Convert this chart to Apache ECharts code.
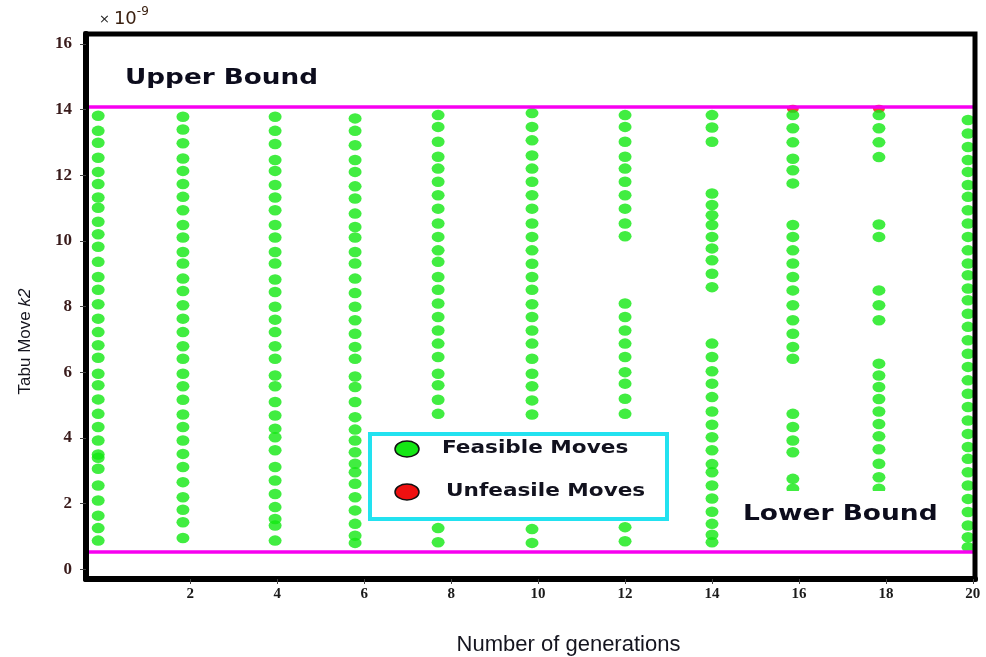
<!DOCTYPE html>
<html>
<head>
<meta charset="utf-8">
<script src="https://cdn.jsdelivr.net/npm/echarts@6/dist/echarts.min.js"></script>
<style>
  html, body { margin: 0; padding: 0; background: #ffffff; }
  #chart { width: 986px; height: 657px; }
</style>
</head>
<body>
<div id="chart"></div>
<script>
// Generation at which each column of moves was sampled
const generationX = [-0.12, 1.83, 3.95, 5.79, 7.70, 9.86, 12.0, 14.0, 15.86, 17.84, 19.89];

// Feasible tabu moves k2 (×10^-9) per generation column
const movesGen0 = [13.81, 13.35, 12.99, 12.53, 12.10, 11.73, 11.32, 11.01, 10.58, 10.20, 9.82, 9.36, 8.90, 8.51, 8.07, 7.63, 7.22, 6.82, 6.44, 5.95, 5.60, 5.17, 4.73, 4.33, 3.92, 3.49, 3.39, 3.06, 2.55, 2.09, 1.63, 1.25, 0.87];
const movesGen2 = [13.78, 13.39, 12.97, 12.51, 12.13, 11.73, 11.34, 10.93, 10.48, 10.10, 9.66, 9.31, 8.85, 8.47, 8.04, 7.63, 7.22, 6.79, 6.41, 5.95, 5.57, 5.16, 4.71, 4.33, 3.92, 3.51, 3.11, 2.65, 2.19, 1.81, 1.43, 0.95];
const movesGen4 = [13.78, 13.35, 12.95, 12.46, 12.13, 11.70, 11.32, 10.93, 10.48, 10.10, 9.66, 9.31, 8.82, 8.44, 7.99, 7.60, 7.22, 6.79, 6.41, 5.90, 5.57, 5.09, 4.68, 4.28, 4.02, 3.62, 3.11, 2.70, 2.29, 1.89, 1.53, 1.33, 0.87];
const movesGen6 = [13.73, 13.35, 12.91, 12.46, 12.10, 11.66, 11.29, 10.83, 10.42, 10.10, 9.66, 9.31, 8.85, 8.41, 7.99, 7.58, 7.17, 6.77, 6.41, 5.87, 5.55, 5.09, 4.63, 4.25, 3.92, 3.56, 3.21, 2.95, 2.60, 2.19, 1.79, 1.38, 1.02, 0.80];
const movesGen8 = [13.83, 13.47, 13.02, 12.56, 12.20, 11.80, 11.39, 10.98, 10.53, 10.12, 9.71, 9.36, 8.90, 8.51, 8.09, 7.68, 7.27, 6.87, 6.46, 5.95, 5.60, 5.16, 4.73, 1.25, 0.82];
const movesGen10 = [13.89, 13.47, 13.06, 12.60, 12.20, 11.80, 11.39, 10.98, 10.53, 10.12, 9.71, 9.30, 8.90, 8.51, 8.07, 7.68, 7.27, 6.87, 6.41, 5.95, 5.57, 5.14, 4.71, 1.22, 0.80];
const movesGen12 = [13.83, 13.47, 13.02, 12.56, 12.20, 11.80, 11.39, 10.98, 10.53, 10.14, 8.09, 7.68, 7.27, 6.87, 6.46, 6.00, 5.65, 5.19, 4.73, 1.28, 0.85];
const movesGen14 = [13.83, 13.45, 13.02, 11.44, 11.09, 10.78, 10.48, 10.12, 9.77, 9.41, 9.00, 8.59, 6.87, 6.46, 6.03, 5.65, 5.24, 4.80, 4.40, 4.02, 3.62, 3.20, 2.95, 2.55, 2.15, 1.75, 1.38, 1.05, 0.82];
const movesGen16 = [13.83, 13.43, 13.00, 12.50, 12.15, 11.75, 10.48, 10.12, 9.71, 9.31, 8.90, 8.49, 8.04, 7.58, 7.17, 6.77, 6.41, 4.73, 4.33, 3.92, 3.56, 2.75, 2.45];
const movesGen18 = [13.83, 13.43, 13.00, 12.55, 10.50, 10.12, 8.49, 8.04, 7.58, 6.26, 5.90, 5.55, 5.18, 4.80, 4.42, 4.05, 3.65, 3.21, 2.80, 2.45];
const movesGen20 = [13.68, 13.27, 12.86, 12.46, 12.10, 11.70, 11.34, 10.93, 10.53, 10.12, 9.71, 9.31, 8.95, 8.55, 8.19, 7.78, 7.38, 6.97, 6.56, 6.16, 5.75, 5.34, 4.94, 4.53, 4.12, 3.72, 3.36, 2.95, 2.55, 2.14, 1.74, 1.33, 0.97, 0.67];

const feasibleColumns = [movesGen0, movesGen2, movesGen4, movesGen6, movesGen8, movesGen10,
                         movesGen12, movesGen14, movesGen16, movesGen18, movesGen20];

// Unfeasible moves, sitting just under the upper bound
const unfeasibleMoves = [[15.86, 14.02], [17.84, 14.02]];

// Bounds of the admissible k2 range
const upperBound = 14.07;
const lowerBound = 0.54;

// Tick positions
const xTickValues = [2, 4, 6, 8, 10, 12, 14, 16, 18, 20];
const yTickValues = [0, 2, 4, 6, 8, 10, 12, 14, 16];

const feasibleData = [];
feasibleColumns.forEach(function (col, i) {
  col.forEach(function (v) { feasibleData.push([generationX[i], v]); });
});

const chart = echarts.init(document.getElementById('chart'), null, { renderer: 'canvas' });

const boldWide = 'bold 21px "DejaVu Sans"';
const legendFont = 'bold 17px "DejaVu Sans"';

chart.setOption({
  animation: false,
  backgroundColor: '#ffffff',
  grid: {
    left: 86, top: 34, width: 889, height: 545,
    outerBoundsMode: 'none', containLabel: false,
    show: true, borderColor: '#000000', borderWidth: 5,
    backgroundColor: 'transparent', z: 10
  },
  xAxis: {
    type: 'value', min: -0.4, max: 20.05, z: 11,
    axisLine: { show: true, onZero: false, lineStyle: { color: '#000000', width: 6 } },
    axisTick: { show: true, length: 5, customValues: xTickValues, lineStyle: { color: '#444444', width: 1 } },
    axisLabel: {
      customValues: xTickValues, margin: 8,
      color: '#1a1a1a', fontFamily: '"Liberation Serif", serif', fontSize: 15, fontWeight: 'bold'
    },
    splitLine: { show: false },
    name: 'Number of generations', nameLocation: 'middle', nameGap: 55,
    nameTextStyle: {
      color: '#15151f', fontFamily: '"Liberation Sans", Arial, sans-serif', fontSize: 22,
      padding: [0, 0, 0, 76]
    }
  },
  yAxis: {
    type: 'value', min: -0.3, max: 16.3, z: 11,
    axisLine: { show: true, onZero: false, lineStyle: { color: '#000000', width: 6 } },
    axisTick: { show: true, length: 6, customValues: yTickValues, lineStyle: { color: '#444444', width: 1 } },
    axisLabel: {
      customValues: yTickValues, margin: 14,
      color: '#3a1c1c', fontFamily: '"Liberation Serif", serif', fontSize: 17, fontWeight: 'bold'
    },
    splitLine: { show: false },
    name: '{n|Tabu Move }{k|k2}', nameLocation: 'middle', nameGap: 52, nameRotate: 90,
    nameTextStyle: {
      padding: [0, 70, 0, 0],
      rich: {
        n: { color: '#15151f', fontFamily: '"Liberation Sans", Arial, sans-serif', fontSize: 17 },
        k: { color: '#15151f', fontFamily: '"Liberation Sans", Arial, sans-serif', fontSize: 17, fontStyle: 'italic' }
      }
    }
  },
  series: [
    {
      name: 'Feasible Moves',
      type: 'scatter',
      data: feasibleData,
      symbol: 'circle',
      symbolSize: [13, 10.5],
      itemStyle: { color: '#12e812' },
      clip: true,
      z: 3,
      silent: true
    },
    {
      name: 'Unfeasile Moves',
      type: 'scatter',
      data: unfeasibleMoves,
      symbol: 'circle',
      symbolSize: [12, 8],
      itemStyle: { color: '#ee1010' },
      clip: true,
      z: 2,
      silent: true,
      markLine: {
        silent: true,
        symbol: 'none',
        label: { show: false },
        lineStyle: { color: '#f700f0', width: 3.5, type: 'solid' },
        data: [{ yAxis: upperBound }, { yAxis: lowerBound }],
        z: 4
      }
    }
  ],
  graphic: [
    {
      type: 'text', x: 99, y: 6, z: 20,
      style: {
        text: '{x|×}{t|10}{s|-9}',
        rich: {
          x: { fontSize: 13, fill: '#222222', fontFamily: '"DejaVu Sans"', padding: [6, 4, 0, 0] },
          t: { fontSize: 18, fill: '#3a2010', fontFamily: '"DejaVu Sans"', padding: [4, 0, 0, 0] },
          s: { fontSize: 12, fill: '#3a2010', fontFamily: '"DejaVu Sans"', verticalAlign: 'top' }
        }
      }
    },
    {
      type: 'text', x: 125, y: 79, z: 20, scaleX: 1.25,
      style: { text: 'Upper Bound', font: boldWide, fill: '#0c0c1c', verticalAlign: 'middle' }
    },
    {
      type: 'rect', z: 20,
      shape: { x: 735, y: 491, width: 212, height: 48 },
      style: { fill: '#ffffff' }
    },
    {
      type: 'text', x: 743, y: 515, z: 21, scaleX: 1.26,
      style: { text: 'Lower Bound', font: boldWide, fill: '#0c0c1c', verticalAlign: 'middle' }
    },
    {
      type: 'rect', z: 20,
      shape: { x: 370, y: 434, width: 297, height: 85 },
      style: { fill: '#ffffff', stroke: '#22e2f0', lineWidth: 4 }
    },
    {
      type: 'ellipse', z: 21,
      shape: { cx: 407, cy: 449, rx: 12, ry: 8 },
      style: { fill: '#14e614', stroke: '#111111', lineWidth: 1.5 }
    },
    {
      type: 'ellipse', z: 21,
      shape: { cx: 407, cy: 492, rx: 12, ry: 8 },
      style: { fill: '#ee1010', stroke: '#111111', lineWidth: 1.5 }
    },
    {
      type: 'text', x: 442, y: 449, z: 21, scaleX: 1.27,
      style: { text: 'Feasible Moves', font: legendFont, fill: '#12121e', verticalAlign: 'middle' }
    },
    {
      type: 'text', x: 446, y: 492, z: 21, scaleX: 1.27,
      style: { text: 'Unfeasile Moves', font: legendFont, fill: '#12121e', verticalAlign: 'middle' }
    }
  ]
});
</script>
</body>
</html>
